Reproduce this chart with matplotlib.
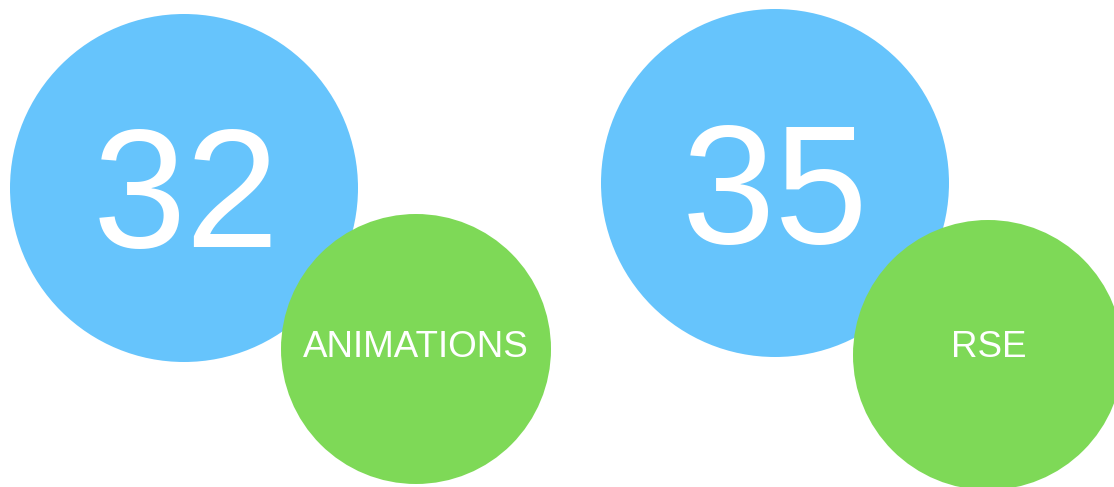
import matplotlib
matplotlib.use("Agg")
import matplotlib.pyplot as plt
from matplotlib.patches import Circle

# Data
values = [32, 35]
labels = ["ANIMATIONS", "RSE"]

# Layout (pixel coordinates, y downward)
blue_centers = [(184, 188), (775, 183)]
blue_radius = 174
green_centers = [(416, 349), (988, 355)]
green_radius = 135
number_pos = [(186, 247), (775, 243)]   # baseline positions
label_pos = [(416, 357), (989, 357)]    # baseline positions

BLUE = "#66C4FC"
GREEN = "#7ED957"

fig = plt.figure(figsize=(11.14, 4.87), dpi=100)
ax = fig.add_axes([0, 0, 1, 1])
ax.set_xlim(0, 1114)
ax.set_ylim(487, 0)
ax.set_aspect("equal")
ax.axis("off")

font = ["Liberation Sans", "DejaVu Sans"]

for v, lab, bc, gc, npos, lpos in zip(values, labels, blue_centers, green_centers,
                                      number_pos, label_pos):
    ax.add_patch(Circle(bc, blue_radius, facecolor=BLUE, edgecolor="none", zorder=1))
    ax.text(npos[0], npos[1], str(v), color="white", fontsize=121, family=font,
            ha="center", va="baseline", zorder=2)
    ax.add_patch(Circle(gc, green_radius, facecolor=GREEN, edgecolor="none", zorder=3))
    ax.text(lpos[0], lpos[1], lab, color="white", fontsize=26.5, family=font,
            ha="center", va="baseline", zorder=4)

fig.savefig("out.png", dpi=100, facecolor="white")
